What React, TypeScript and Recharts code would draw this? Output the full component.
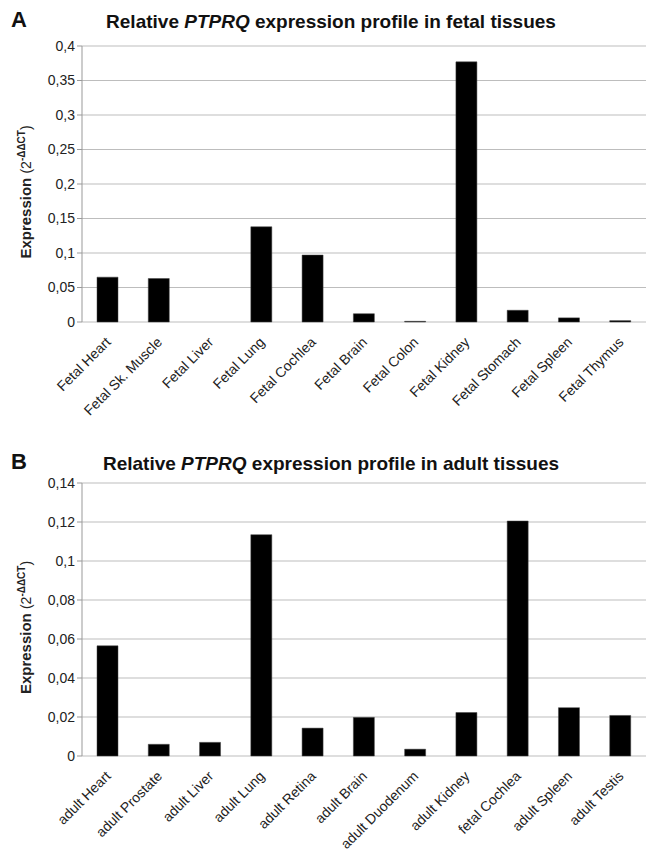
import { BarChart, Bar, XAxis, YAxis, CartesianGrid } from "recharts";

const fetalTissues = [
  "Fetal Heart",
  "Fetal Sk. Muscle",
  "Fetal Liver",
  "Fetal Lung",
  "Fetal Cochlea",
  "Fetal Brain",
  "Fetal Colon",
  "Fetal Kidney",
  "Fetal Stomach",
  "Fetal Spleen",
  "Fetal Thymus",
];
const fetalValues = [0.065, 0.063, 0.0, 0.138, 0.097, 0.012, 0.001, 0.377, 0.017, 0.006, 0.002];
const fetalTicks = [0, 0.05, 0.1, 0.15, 0.2, 0.25, 0.3, 0.35, 0.4];

const adultTissues = [
  "adult Heart",
  "adult Prostate",
  "adult Liver",
  "adult Lung",
  "adult Retina",
  "adult Brain",
  "adult Duodenum",
  "adult Kidney",
  "fetal Cochlea",
  "adult Spleen",
  "adult Testis",
];
const adultValues = [0.0565, 0.006, 0.007, 0.1135, 0.0143, 0.0198, 0.0035, 0.0223, 0.1205, 0.0248, 0.0208];
const adultTicks = [0, 0.02, 0.04, 0.06, 0.08, 0.1, 0.12, 0.14];

const FONT = "Arial, 'Liberation Sans', sans-serif";
const GRID = "#bdbdbd";
const TEXT = "#222";

const fmt = (v: number) => String(v).replace(".", ",");

const XTick = ({ x, y, payload }: any) => (
  <g transform={`translate(${x + 4},${y + 13})`}>
    <text
      x={0}
      y={0}
      textAnchor="end"
      transform="rotate(-45)"
      fontSize={14}
      fontFamily={FONT}
      fill={TEXT}
    >
      {payload.value}
    </text>
  </g>
);

const YLabel = ({ viewBox }: any) => {
  const cx = viewBox.x + 31;
  const cy = viewBox.y + viewBox.height / 2 + 8;
  return (
    <text
      x={cx}
      y={cy}
      transform={`rotate(-90, ${cx}, ${cy})`}
      textAnchor="middle"
      fontFamily={FONT}
      fill={TEXT}
    >
      <tspan fontSize={15} fontWeight="bold">Expression </tspan>
      <tspan fontSize={14}>(2</tspan>
      <tspan fontSize={10} fontWeight="bold" dy={-6}>-ΔΔCT</tspan>
      <tspan fontSize={14} dy={6}>)</tspan>
    </text>
  );
};

interface PanelProps {
  letter: string;
  group: string;
  names: string[];
  values: number[];
  ticks: number[];
  top: number;
  height: number;
  marginTop: number;
  axisHeight: number;
  titleTop: number;
}

function Panel({ letter, group, names, values, ticks, top, height, marginTop, axisHeight, titleTop }: PanelProps) {
  const data = names.map((name, i) => ({ name, value: values[i], idx: i }));
  const edges = names.map((_, i) => i).concat([names.length]);
  return (
    <div style={{ position: "absolute", left: 0, top, width: 648, height }}>
      <div
        style={{
          position: "absolute",
          left: 11,
          top: titleTop - 4,
          fontFamily: FONT,
          fontWeight: "bold",
          fontSize: 22,
          color: "#111",
        }}
      >
        {letter}
      </div>
      <div
        style={{
          position: "absolute",
          left: 0,
          width: 662,
          top: titleTop,
          textAlign: "center",
          fontFamily: FONT,
          fontWeight: "bold",
          fontSize: 19,
          color: "#111",
        }}
      >
        Relative <i>PTPRQ</i> expression profile in {group} tissues
      </div>
      <BarChart
        width={648}
        height={height}
        data={data}
        margin={{ top: marginTop, right: 2, left: 0, bottom: 0 }}
        barSize={21}
      >
        <CartesianGrid vertical={false} stroke={GRID} strokeWidth={1} />
        <XAxis
          xAxisId="edges"
          type="number"
          dataKey="idx"
          domain={[0, names.length]}
          ticks={edges}
          tick={false}
          tickSize={5}
          height={0}
          stroke="#999"
          allowDataOverflow
        />
        <XAxis
          xAxisId="cat"
          dataKey="name"
          interval={0}
          axisLine={false}
          tickLine={false}
          tick={<XTick />}
          height={axisHeight}
        />
        <YAxis
          width={82}
          domain={[0, ticks[ticks.length - 1]]}
          ticks={ticks}
          interval={0}
          tickFormatter={fmt}
          tickSize={5}
          stroke="#999"
          tick={{ fontSize: 14, fontFamily: FONT, fill: TEXT }}
          label={<YLabel />}
        />
        <Bar
          xAxisId="cat"
          dataKey="value"
          fill="#000"
          stroke="#444"
          strokeWidth={0.5}
          isAnimationActive={false}
        />
      </BarChart>
    </div>
  );
}

export default function App() {
  return (
    <div style={{ position: "absolute", left: 0, top: 0, width: 648, height: 851, background: "#fff" }}>
      <Panel
        letter="A"
        group="fetal"
        names={fetalTissues}
        values={fetalValues}
        ticks={fetalTicks}
        top={0}
        height={430}
        marginTop={46}
        axisHeight={108}
        titleTop={11}
      />
      <Panel
        letter="B"
        group="adult"
        names={adultTissues}
        values={adultValues}
        ticks={adultTicks}
        top={430}
        height={421}
        marginTop={53}
        axisHeight={95}
        titleTop={23}
      />
    </div>
  );
}
